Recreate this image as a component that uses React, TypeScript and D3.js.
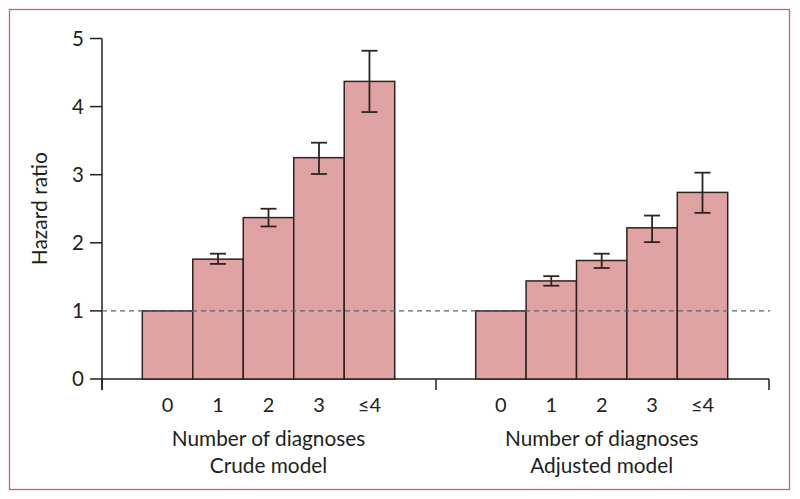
import React from "react";
import * as d3 from "d3";

const categories = ["0", "1", "2", "3", "≤4"];
const crudeValues = [1, 1.76, 2.37, 3.25, 4.37];
const crudeLower = [1, 1.69, 2.24, 3.01, 3.92];
const crudeUpper = [1, 1.84, 2.5, 3.47, 4.82];
const adjValues = [1, 1.44, 1.74, 2.22, 2.74];
const adjLower = [1, 1.37, 1.63, 2.01, 2.44];
const adjUpper = [1, 1.51, 1.84, 2.4, 3.03];
const yTicks = [0, 1, 2, 3, 4, 5];
const groups = [
  { title: "Crude model", values: crudeValues, lower: crudeLower, upper: crudeUpper },
  { title: "Adjusted model", values: adjValues, lower: adjLower, upper: adjUpper },
];

const W = 800;
const H = 499;
const font = "Lato, 'Open Sans', sans-serif";
const ink = "#231f20";

export default function App() {
  const y = d3.scaleLinear().domain([0, 5]).range([379, 38.5]);
  const axisLeft = 102;
  const groupRanges: [number, number][] = [
    [142.3, 394.7],
    [475.7, 727.7],
  ];
  const groupTicks = [102, 436, 769];
  return (
    <svg width={W} height={H} style={{ position: "absolute", left: 0, top: 0 }} fontFamily={font}>
      <rect x={9.5} y={9.5} width={780} height={480} fill="#fff" stroke="#c4628a" strokeWidth={1.3} />
      {/* y axis */}
      <line x1={axisLeft} x2={axisLeft} y1={y(5)} y2={390} stroke={ink} strokeWidth={1.5} />
      {yTicks.map((t) => (
        <g key={t}>
          <line x1={90} x2={axisLeft} y1={y(t)} y2={y(t)} stroke={ink} strokeWidth={1.5} />
          <text x={84} y={y(t)} dy="0.36em" textAnchor="end" fontSize={20.5} fill={ink}>
            {t}
          </text>
        </g>
      ))}
      <text
        transform={`translate(47,${y(2.5)}) rotate(-90)`}
        textAnchor="middle"
        fontSize={21}
        fill={ink}
      >
        Hazard ratio
      </text>
      {/* x baseline */}
      <line x1={axisLeft} x2={769} y1={y(0)} y2={y(0)} stroke={ink} strokeWidth={1.5} />
      {groupTicks.map((gx, i) => (
        <line key={i} x1={gx} x2={gx} y1={y(0)} y2={390} stroke={ink} strokeWidth={1.5} />
      ))}
      {groups.map((g, gi) => {
        const x = d3.scaleBand().domain(categories).range(groupRanges[gi]).padding(0);
        const cx = (groupRanges[gi][0] + groupRanges[gi][1]) / 2;
        return (
          <g key={gi}>
            {categories.map((c, i) => (
              <rect
                key={c}
                x={x(c)}
                y={y(g.values[i])}
                width={x.bandwidth()}
                height={y(0) - y(g.values[i])}
                fill="#e0a3a3"
                stroke="#2e2222"
                strokeWidth={1.5}
              />
            ))}
            {categories.map((c, i) => {
              if (i === 0) return null;
              const bx = (x(c) as number) + x.bandwidth() / 2;
              return (
                <g key={"e" + c} stroke="#2e2222" strokeWidth={1.8}>
                  <line x1={bx} x2={bx} y1={y(g.upper[i])} y2={y(g.lower[i])} />
                  <line x1={bx - 8} x2={bx + 8} y1={y(g.upper[i])} y2={y(g.upper[i])} />
                  <line x1={bx - 8} x2={bx + 8} y1={y(g.lower[i])} y2={y(g.lower[i])} />
                </g>
              );
            })}
            {categories.map((c) => (
              <text
                key={"t" + c}
                x={(x(c) as number) + x.bandwidth() / 2}
                y={412}
                textAnchor="middle"
                fontSize={20}
                fill={ink}
              >
                {c}
              </text>
            ))}
            <text x={cx} y={446} textAnchor="middle" fontSize={20.8} fill={ink}>
              Number of diagnoses
            </text>
            <text x={cx} y={473} textAnchor="middle" fontSize={20.8} fill={ink}>
              {g.title}
            </text>
          </g>
        );
      })}
      <line
        x1={axisLeft}
        x2={770}
        y1={y(1)}
        y2={y(1)}
        stroke="#4d6b78"
        strokeWidth={1.3}
        strokeDasharray="5,4"
      />
    </svg>
  );
}
